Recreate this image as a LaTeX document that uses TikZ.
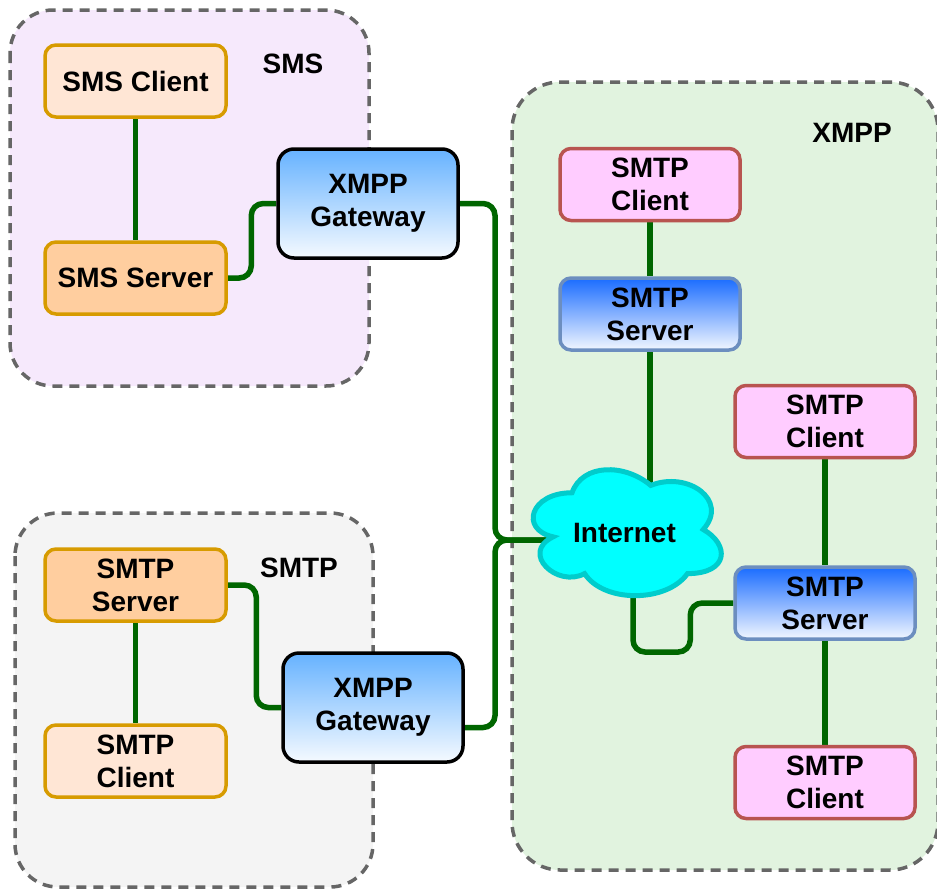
\documentclass[tikz,border=0pt]{standalone}
\usepackage{fontspec}
\setmainfont{Liberation Sans}
\usetikzlibrary{calc}

\definecolor{zoneline}{HTML}{666666}
\definecolor{smszone}{HTML}{F6E9FC}
\definecolor{smtpzone}{HTML}{F4F4F4}
\definecolor{xmppzone}{HTML}{E1F3DF}
\definecolor{peachlight}{HTML}{FFE6D5}
\definecolor{peachdark}{HTML}{FFCE9F}
\definecolor{orangeline}{HTML}{D79B00}
\definecolor{pinkfill}{HTML}{FFCCFF}
\definecolor{redline}{HTML}{B85450}
\definecolor{bluetop}{HTML}{1A6CFF}
\definecolor{bluebottom}{HTML}{F2F7FF}
\definecolor{blueline}{HTML}{6C8EBF}
\definecolor{gwtop}{HTML}{66B2FF}
\definecolor{gwbottom}{HTML}{F5FAFF}
\definecolor{wiregreen}{HTML}{006600}
\definecolor{cloudfill}{HTML}{00FFFF}
\definecolor{cloudline}{HTML}{00CCCC}

\pgfdeclarelayer{back}
\pgfdeclarelayer{wires}
\pgfsetlayers{back,wires,main}

\begin{document}
\begin{tikzpicture}[x=1pt, y=-1pt,
  font=\bfseries\fontsize{28}{33}\selectfont,
  box/.style={draw, line width=3.5pt, rounded corners=11pt, align=center,
    minimum width=181pt, minimum height=72pt, inner sep=0pt},
  lightorange/.style={box, fill=peachlight, draw=orangeline},
  darkorange/.style={box, fill=peachdark, draw=orangeline},
  pinkclient/.style={box, fill=pinkfill, draw=redline, minimum width=180pt},
  blueserver/.style={box, draw=blueline, top color=bluetop, bottom color=bluebottom, minimum width=180pt},
  gateway/.style={box, draw=black, top color=gwtop, bottom color=gwbottom,
    minimum width=180pt, minimum height=109pt, rounded corners=16pt},
  wire/.style={draw=wiregreen, line width=5.5pt, rounded corners=12pt},
  zone/.style={draw=zoneline, line width=3.5pt, dash pattern=on 10pt off 7pt},
  zonelabel/.style={inner sep=0pt}
]
\useasboundingbox (0,0) rectangle (937,889);

% group areas
\begin{pgfonlayer}{back}
  \draw[zone, fill=smszone, rounded corners=43pt] (10,10) rectangle (369,386);
  \draw[zone, fill=smtpzone, rounded corners=43pt] (15,513) rectangle (373,887);
  \draw[zone, fill=xmppzone, rounded corners=48pt] (512,82) rectangle (938,870);
\end{pgfonlayer}

\node[zonelabel] (lsms) at (293,64) {SMS};
\node[zonelabel] (lsmtp) at (299,568) {SMTP};
\node[zonelabel] (lxmpp) at (852,133) {XMPP};

% SMS side
\node[lightorange] (smsC) at (135.5,81) {SMS Client};
\node[darkorange] (smsS) at (135.5,278) {SMS Server};
\node[gateway] (gwA) at (368,203.5) {XMPP\\Gateway};

% SMTP side
\node[darkorange] (smtpS) at (135.5,585) {SMTP\\Server};
\node[lightorange] (smtpC) at (135.5,761) {SMTP\\Client};
\node[gateway] (gwB) at (373,707.5) {XMPP\\Gateway};

% XMPP side
\node[pinkclient] (c1) at (650,184.5) {SMTP\\Client};
\node[blueserver] (s1) at (650,314) {SMTP\\Server};
\node[pinkclient] (c2) at (825,421.5) {SMTP\\Client};
\node[blueserver] (s2) at (825,603) {SMTP\\Server};
\node[pinkclient] (c3) at (825,782.5) {SMTP\\Client};

% cloud
\begin{scope}[shift={(519.5,456)}, x=210pt, y=-147pt]
  \draw[fill=cloudfill, draw=cloudline, line width=5pt]
    (0.25,0.25) .. controls (0.05,0.25) and (0,0.5) .. (0.16,0.55)
    .. controls (0,0.66) and (0.18,0.9) .. (0.31,0.8)
    .. controls (0.4,1) and (0.7,1) .. (0.8,0.8)
    .. controls (1,0.8) and (1,0.6) .. (0.875,0.5)
    .. controls (1,0.3) and (0.8,0.1) .. (0.625,0.2)
    .. controls (0.5,0.05) and (0.3,0.05) .. (0.25,0.25) -- cycle;
\end{scope}
\node[inner sep=0pt] (cloud) at (624.5,533) {Internet};

% connectors
\coordinate (jn) at (495,540);
\begin{pgfonlayer}{wires}
  \draw[wire] (smsC.south) -- (smsS.north);
  \draw[wire] (smsS.east) -| ([xshift=-25pt]gwA.west) -- (gwA.west);
  \draw[wire] (smtpS.south) -- (smtpC.north);
  \draw[wire] (smtpS.east) -| ([xshift=-25pt]gwB.west) -- (gwB.west);
  \draw[wire] (gwA.east) -| (jn) -- (jn -| cloud.center);
  \draw[wire] ([yshift=-20pt]gwB.east) -| (jn) -- (jn -| cloud.center);
  \draw[wire] (c1.south) -- (s1.north);
  \draw[wire] (s1.south) -- (s1.south |- cloud.center);
  \draw[wire] ([xshift=8.5pt]cloud.center) -- ++(0,119) -| ([xshift=-43pt]s2.west) -- (s2.west);
  \draw[wire] (c2.south) -- (s2.north);
  \draw[wire] (s2.south) -- (c3.north);
\end{pgfonlayer}
\end{tikzpicture}
\end{document}
